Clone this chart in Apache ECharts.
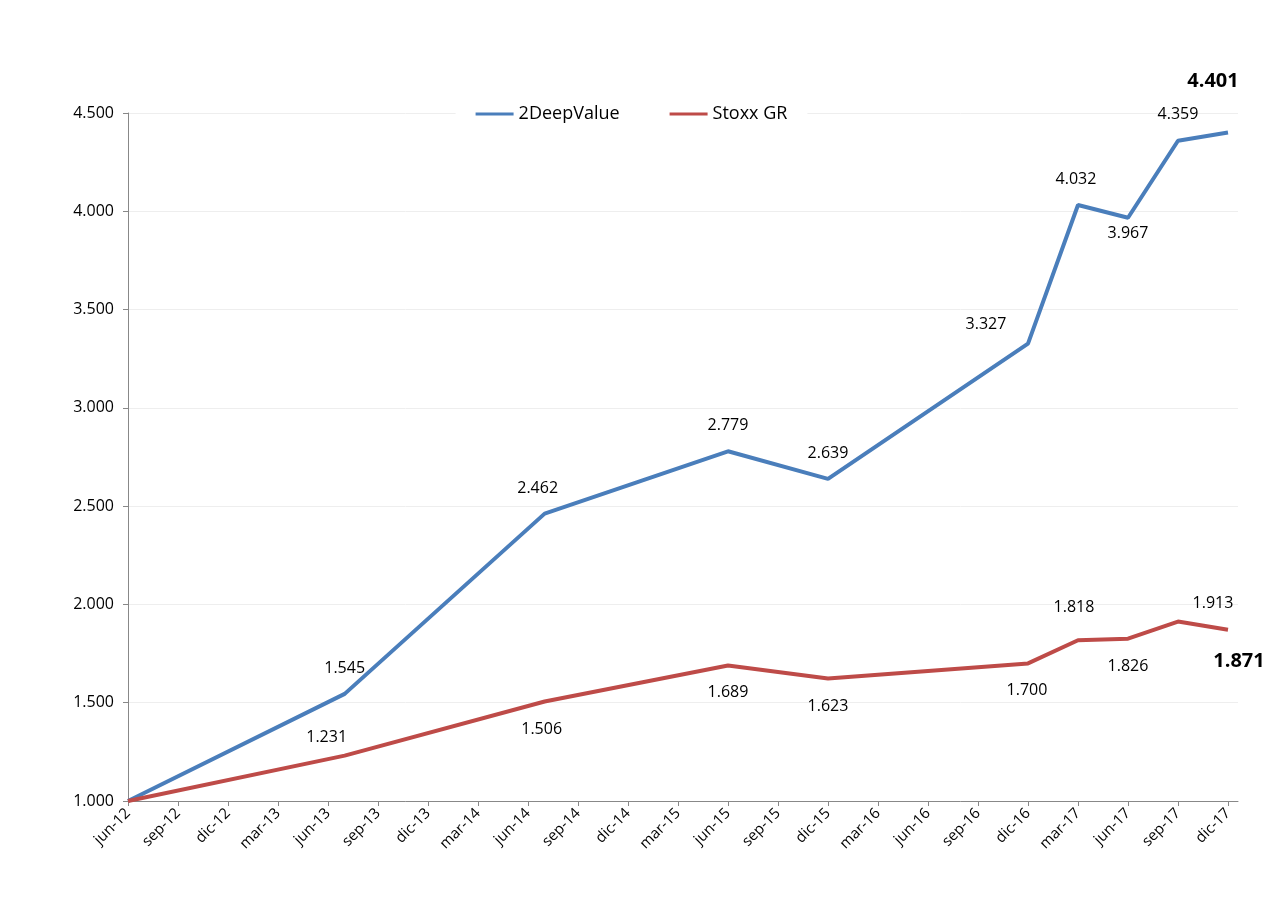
<!DOCTYPE html>
<html><head><meta charset="utf-8">
<script src="https://cdn.jsdelivr.net/npm/echarts@6/dist/echarts.min.js"></script>
<style>html,body{margin:0;background:#fff}#c{width:1263px;height:913px}</style>
</head><body><div id="c"></div>
<script>
var tickLabels=['jun-12','sep-12','dic-12','mar-13','jun-13','sep-13','dic-13','mar-14','jun-14','sep-14','dic-14','mar-15','jun-15','sep-15','dic-15','mar-16','jun-16','sep-16','dic-16','mar-17','jun-17','sep-17','dic-17'];
var monthIdx=[0,13,25,36,42,54,57,60,63,66];
var deepValue=[1.000,1.545,2.462,2.779,2.639,3.327,4.032,3.967,4.359,4.401];
var stoxx=[1.000,1.231,1.506,1.689,1.623,1.700,1.818,1.826,1.913,1.871];
var blueLbl=[null,[0,-25],[-7,-25],[0,-26],[0,-25],[-42,-19],[-2,-26],[0,16],[0,-26],[-15,-51]];
var redLbl=[null,[-18,-18],[-3,28],[0,27],[0,28],[-1,27],[-4,-33],[0,28],[35,-18],[11,32]];
function build(vals,lbl){
  return vals.map(function(v,i){
    var d={value:[monthIdx[i],v*1000]};
    if(!lbl[i]) d.label={show:false};
    else {
      var last=i===vals.length-1;
      d.label={show:true,position:[lbl[i][0],lbl[i][1]],align:'center',verticalAlign:'middle',color:'#000',
        fontSize:last?20:16,fontWeight:last?'bold':'normal',fontFamily:'Open Sans'};
    }
    return d;
  });
}
var lblCfg={show:true,formatter:function(p){return (p.value[1]/1000).toFixed(3);}};
var chart=echarts.init(document.getElementById('c'));
chart.setOption({
  animation:false,
  grid:{left:128,right:25,top:113,bottom:112},
  legend:{top:103,left:'center',itemGap:50,itemWidth:38,itemHeight:3,icon:'rect',backgroundColor:'#fff',padding:[2,20],
    textStyle:{fontSize:18,fontFamily:'Open Sans',color:'#000'},data:['2DeepValue','Stoxx GR']},
  xAxis:{type:'value',min:0,max:66.6,interval:3,
    axisLine:{lineStyle:{color:'#888'}},axisTick:{show:true,length:5,lineStyle:{color:'#888'}},splitLine:{show:false},
    axisLabel:{rotate:45,fontSize:15,fontFamily:'Open Sans',color:'#000',margin:10,showMaxLabel:false,
      formatter:function(v){return tickLabels[Math.round(v/3)]||'';}}},
  yAxis:{type:'value',min:1000,max:4500,interval:500,
    axisLine:{show:true,lineStyle:{color:'#888'}},axisTick:{show:true,lineStyle:{color:'#888'}},
    splitLine:{lineStyle:{color:'#eee'}},
    axisLabel:{fontSize:16,fontFamily:'Open Sans',color:'#000',margin:14,
      formatter:function(v){return (v/1000).toFixed(3);}}},
  series:[
    {name:'2DeepValue',type:'line',symbol:'circle',symbolSize:0.01,showSymbol:true,lineStyle:{width:4,color:'#4a7ebb'},itemStyle:{color:'#4a7ebb'},
      label:lblCfg,labelLayout:{hideOverlap:false},data:build(deepValue,blueLbl)},
    {name:'Stoxx GR',type:'line',symbol:'circle',symbolSize:0.01,showSymbol:true,lineStyle:{width:4,color:'#be4b48'},itemStyle:{color:'#be4b48'},
      label:lblCfg,labelLayout:{hideOverlap:false},data:build(stoxx,redLbl)}
  ]
});
</script></body></html>
